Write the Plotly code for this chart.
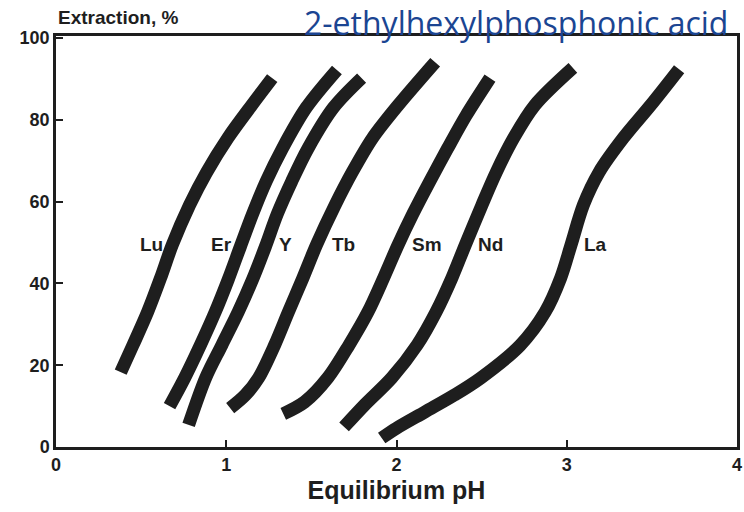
import plotly.graph_objects as go

# Centre-lines of the extraction curves (equilibrium pH, extraction %)
lu_ph = [0.38, 0.452, 0.538, 0.614, 0.683, 0.785, 0.885, 1.01, 1.15, 1.27]
lu_ext = [18.3, 24.9, 33.0, 41.3, 49.4, 59.2, 67.2, 75.6, 83.6, 90.2]

er_ph = [0.667, 0.757, 0.849, 0.935, 1.012, 1.083, 1.155, 1.235, 1.33, 1.47, 1.65]
er_ext = [10.0, 17.0, 25.0, 33.0, 41.0, 49.0, 57.0, 65.0, 73.0, 83.0, 92.2]

y_ph = [0.779, 0.88, 0.975, 1.07, 1.155, 1.23, 1.30, 1.385, 1.48, 1.63, 1.795]
y_ext = [5.4, 17.0, 25.0, 33.0, 41.0, 49.0, 57.0, 65.0, 73.0, 83.0, 90.2]

tb_ph = [1.023, 1.112, 1.19, 1.285, 1.365, 1.45, 1.53, 1.64, 1.74, 1.86, 2.01, 2.227]
tb_ext = [9.5, 12.7, 16.9, 25.0, 33.0, 41.3, 49.4, 59.2, 67.2, 75.6, 83.6, 94.1]

sm_ph = [1.335, 1.46, 1.596, 1.722, 1.832, 1.924, 2.009, 2.096, 2.196, 2.30, 2.408, 2.549]
sm_ext = [8.1, 11.0, 16.9, 25.0, 33.0, 41.3, 49.4, 57.0, 65.0, 73.0, 81.0, 90.2]

nd_ph = [1.692, 1.813, 1.972, 2.122, 2.232, 2.325, 2.404, 2.502, 2.586, 2.689, 2.813, 3.036]
nd_ext = [4.9, 10.3, 16.9, 25.0, 33.0, 41.3, 49.4, 59.2, 67.2, 75.6, 83.6, 92.7]

la_ph = [1.913, 2.0, 2.168, 2.34, 2.495, 2.727, 2.873, 2.964, 3.025, 3.098, 3.19, 3.333, 3.493, 3.66]
la_ext = [2.2, 4.6, 8.6, 12.7, 16.9, 24.9, 33.0, 41.3, 49.4, 59.2, 67.2, 75.6, 83.6, 92.4]

# Element labels
label_text = ["Lu", "Er", "Y", "Tb", "Sm", "Nd", "La"]
label_ph = [0.56, 0.97, 1.35, 1.69, 2.18, 2.55, 3.17]
label_ext = [49.6, 49.6, 49.6, 49.6, 49.6, 49.6, 49.6]

x_ticks = [0, 1, 2, 3, 4]
y_ticks = [0, 20, 40, 60, 80, 100]

series = [
    ("Lu", lu_ph, lu_ext),
    ("Er", er_ph, er_ext),
    ("Y", y_ph, y_ext),
    ("Tb", tb_ph, tb_ext),
    ("Sm", sm_ph, sm_ext),
    ("Nd", nd_ph, nd_ext),
    ("La", la_ph, la_ext),
]

fig = go.Figure()
for name, xs, ys in series:
    fig.add_trace(go.Scatter(
        x=xs, y=ys, mode="lines", name=name,
        line=dict(color="#1e1e1e", width=13, shape="spline", smoothing=0.9),
        showlegend=False, hoverinfo="skip",
    ))

font_main = "Liberation Sans, Arial, sans-serif"

for t, x, y in zip(label_text, label_ph, label_ext):
    fig.add_annotation(
        x=x, y=y, text=t, showarrow=False, xref="x", yref="y",
        font=dict(family=font_main, size=19, color="#1e1e1e", weight="bold"),
    )

fig.add_annotation(
    xref="paper", yref="paper", x=0.0, y=1.046, xanchor="left", yanchor="middle",
    text="Extraction, %", showarrow=False,
    font=dict(family=font_main, size=19, color="#1e1e1e", weight="bold"),
)
fig.add_annotation(
    xref="paper", yref="paper", x=0.99, y=1.032, xanchor="right", yanchor="middle",
    text="2-ethylhexylphosphonic acid", showarrow=False,
    font=dict(family="Open Sans, sans-serif", size=32, color="#1b4592"),
)

axis_common = dict(
    showline=True, linecolor="#1e1e1e", linewidth=2.5, mirror=True,
    showgrid=False, zeroline=False, ticks="inside", ticklen=7, tickwidth=2,
    tickcolor="#1e1e1e", ticklabeloverflow="allow",
    tickfont=dict(family=font_main, size=18, color="#1e1e1e", weight="bold"),
)

fig.update_xaxes(
    range=[0, 4], tickvals=x_ticks, ticktext=[str(v) for v in x_ticks],
    title=dict(text="Equilibrium pH", standoff=8,
               font=dict(family=font_main, size=25, color="#1e1e1e", weight="bold")),
    **axis_common,
)
fig.update_yaxes(
    range=[0, 100.5], tickvals=y_ticks, ticktext=[str(v) for v in y_ticks],
    **axis_common,
)

fig.update_layout(
    width=744, height=512,
    margin=dict(l=56, r=2, t=36, b=65),
    paper_bgcolor="white", plot_bgcolor="white",
)

fig.write_html("out.html")
